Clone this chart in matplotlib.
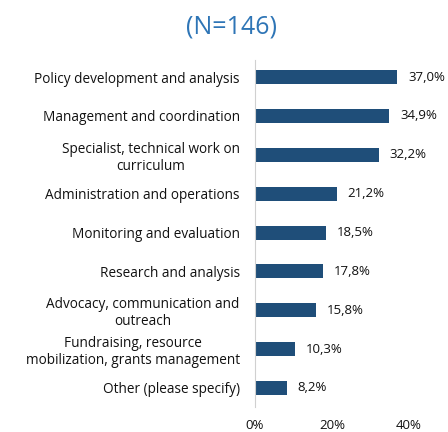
import matplotlib
matplotlib.use('Agg')
import matplotlib.pyplot as plt

# Data
categories = [
    'Policy development and analysis',
    'Management and coordination',
    'Specialist, technical work on\ncurriculum',
    'Administration and operations',
    'Monitoring and evaluation',
    'Research and analysis',
    'Advocacy, communication and\noutreach',
    'Fundraising, resource\nmobilization, grants management',
    'Other (please specify)',
]
values = [37.0, 34.9, 32.2, 21.2, 18.5, 17.8, 15.8, 10.3, 8.2]
value_labels = ['37,0%', '34,9%', '32,2%', '21,2%', '18,5%', '17,8%', '15,8%', '10,3%', '8,2%']
xticks = [0, 20, 40]
xtick_labels = ['0%', '20%', '40%']

plt.rcParams['font.family'] = ['Open Sans', 'DejaVu Sans']

fig = plt.figure(figsize=(4.48, 4.32), dpi=100)
ax = fig.add_axes([0.569, 0.058, 0.344, 0.803])

ypos = list(range(len(categories)))[::-1]
ax.barh(ypos, values, height=0.36, color='#1F4E79')

for y, v, lab in zip(ypos, values, value_labels):
    ax.text(v + 2.8, y, lab, va='center', ha='left', fontsize=9.5, color='#111111')

ax.set_xlim(0, 40)
ax.set_ylim(-0.49, len(categories) - 1 + 0.44)
ax.set_yticks(ypos)
ax.set_yticklabels(categories, fontsize=9.8, color='#111111', multialignment='center')
ax.set_xticks(xticks)
ax.set_xticklabels(xtick_labels, fontsize=9.5, color='#111111')
ax.tick_params(axis='both', length=0)
ax.tick_params(axis='y', pad=11)
ax.tick_params(axis='x', pad=9)

for side in ['top', 'right', 'bottom']:
    ax.spines[side].set_visible(False)
ax.spines['left'].set_color('#D0D0D0')

fig.text(0.516, 0.937, '(N=146)', ha='center', va='center', fontsize=18, color='#2E75B6')

plt.savefig('out.png', dpi=100)
